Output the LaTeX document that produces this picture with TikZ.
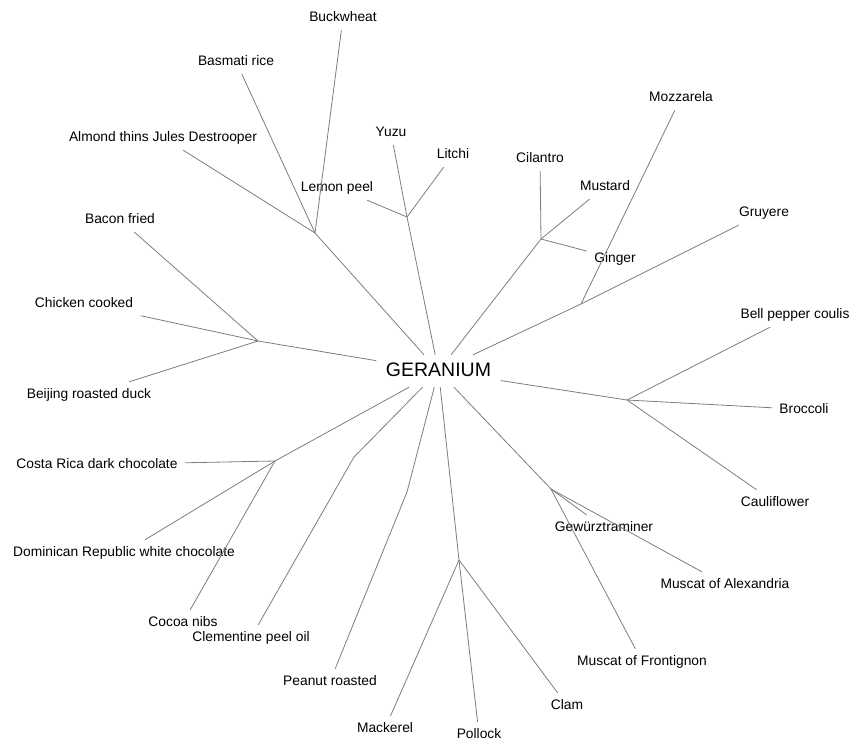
\documentclass[tikz,border=0pt]{standalone}
\usepackage{fontspec}
\setmainfont{Liberation Sans}
\usepackage{tikz}
\usetikzlibrary{positioning}
\definecolor{edgegray}{RGB}{125,125,125}
\tikzstyle{edge} = [draw=edgegray, line width=0.8pt]
\tikzstyle{leaf} = [font=\fontsize{13.8}{16}\selectfont, text height=10pt, text depth=3pt, inner xsep=7.5pt, inner ysep=6pt, yshift=-1.5pt]
\tikzstyle{rootnode} = [font=\fontsize{19.5}{22}\selectfont, text height=14pt, text depth=4pt, inner xsep=9.5pt, inner ysep=7pt]

\begin{document}
\begin{tikzpicture}[x=1pt, y=-1pt]
\useasboundingbox (0,0) rectangle (864,750);
% Root
\node (root) [rootnode] at (438.5,371) {GERANIUM};

% Forks
\coordinate (jbuck) at (315,233);
\coordinate (jyuzu) at (407,217);
\coordinate (jcil) at (541,239);
\coordinate (jgru) at (581,304);
\coordinate (jbro) at (627,400);
\coordinate (jgew) at (551,489);
\coordinate (jpol) at (459,560);
\coordinate (kpea) at (407,492);
\coordinate (kcle) at (354,457);
\coordinate (jcoc) at (275,461);
\coordinate (jchi) at (258,341);

% Leaves
\node (buck) [leaf] at (343,16) {Buckwheat};
\node (basm) [leaf] at (236,60) {Basmati rice};
\node (almd) [leaf] at (163,136) {Almond thins Jules Destrooper};
\node (yuzu) [leaf] at (391,131) {Yuzu};
\node (litc) [leaf] at (453,153) {Litchi};
\node (lemn) [leaf] at (337,186) {Lemon peel};
\node (cila) [leaf] at (540,157) {Cilantro};
\node (must) [leaf] at (605,185) {Mustard};
\node (ging) [leaf] at (615,257) {Ginger};
\node (mozz) [leaf] at (681,96) {Mozzarela};
\node (gruy) [leaf] at (764,211) {Gruyere};
\node (bell) [leaf] at (795,313) {Bell pepper coulis};
\node (broc) [leaf] at (804,408) {Broccoli};
\node (caul) [leaf] at (775,501) {Cauliflower};
\node (gewu) [leaf] at (604,526) {Gewürztraminer};
\node (malx) [leaf] at (725,583) {Muscat of Alexandria};
\node (mfro) [leaf] at (642,660) {Muscat of Frontignon};
\node (clam) [leaf] at (567,704) {Clam};
\node (poll) [leaf] at (479,733) {Pollock};
\node (mack) [leaf] at (385,727) {Mackerel};
\node (pean) [leaf] at (330,680) {Peanut roasted};
\node (clem) [leaf] at (251,636) {Clementine peel oil};
\node (coco) [leaf] at (183,621) {Cocoa nibs};
\node (domr) [leaf] at (124,551) {Dominican Republic white chocolate};
\node (cost) [leaf] at (97,463) {Costa Rica dark chocolate};
\node (beij) [leaf] at (89,393) {Beijing roasted duck};
\node (chic) [leaf] at (84,302) {Chicken cooked};
\node (bacn) [leaf] at (120,218) {Bacon fried};

% Branches from the root
\draw[edge] (root) -- (jbuck);
\draw[edge] (root) -- (jyuzu);
\draw[edge] (root) -- (jcil);
\draw[edge] (root) -- (jgru);
\draw[edge] (root) -- (jbro);
\draw[edge] (root) -- (jgew);
\draw[edge] (root) -- (jpol);
\draw[edge] (root) -- (kpea);
\draw[edge] (root) -- (kcle);
\draw[edge] (root) -- (jcoc);
\draw[edge] (root) -- (jchi);

% Branches to the leaves
\draw[edge] (jbuck) -- (buck);
\draw[edge] (jbuck) -- (basm);
\draw[edge] (jbuck) -- (almd);
\draw[edge] (jyuzu) -- (yuzu);
\draw[edge] (jyuzu) -- (litc);
\draw[edge] (jyuzu) -- (lemn);
\draw[edge] (jcil) -- (cila);
\draw[edge] (jcil) -- (must);
\draw[edge] (jcil) -- (ging);
\draw[edge] (jgru) -- (mozz);
\draw[edge] (jgru) -- (gruy);
\draw[edge] (jbro) -- (bell);
\draw[edge] (jbro) -- (broc);
\draw[edge] (jbro) -- (caul);
\draw[edge] (jgew) -- (gewu);
\draw[edge] (jgew) -- (malx);
\draw[edge] (jgew) -- (mfro);
\draw[edge] (jpol) -- (clam);
\draw[edge] (jpol) -- (poll);
\draw[edge] (jpol) -- (mack);
\draw[edge] (kpea) -- (pean);
\draw[edge] (kcle) -- (clem);
\draw[edge] (jcoc) -- (coco);
\draw[edge] (jcoc) -- (domr);
\draw[edge] (jcoc) -- (cost);
\draw[edge] (jchi) -- (beij);
\draw[edge] (jchi) -- (chic);
\draw[edge] (jchi) -- (bacn);
\end{tikzpicture}
\end{document}
